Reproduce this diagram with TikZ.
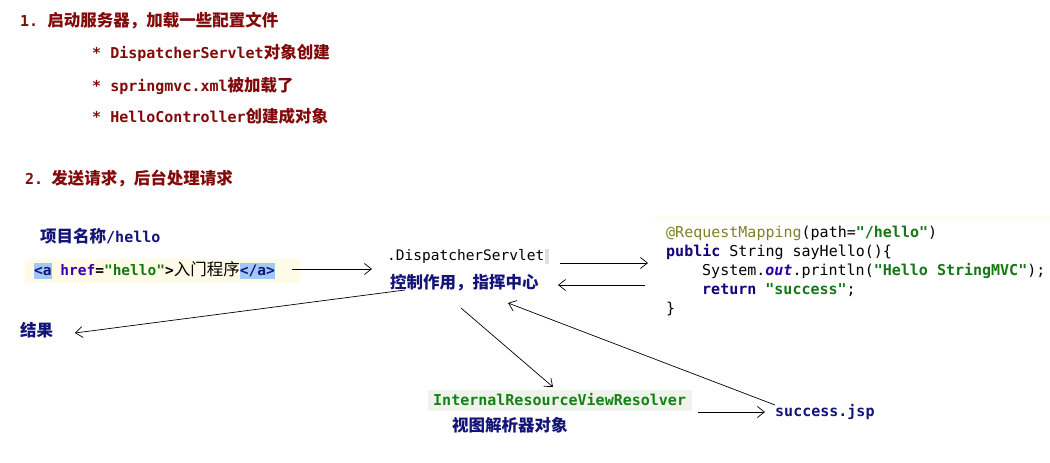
\documentclass[tikz,border=0pt]{standalone}
\usepackage{fontspec}
\setmonofont{DejaVu Sans Mono}
\newfontfamily\cjk{Noto Sans CJK SC}
\usetikzlibrary{arrows.meta}
\definecolor{dred}{RGB}{130,10,10}
\definecolor{navy}{RGB}{20,20,120}
\definecolor{kw}{RGB}{20,0,120}
\definecolor{strg}{RGB}{20,120,20}
\definecolor{anno}{RGB}{128,128,40}
\definecolor{fld}{RGB}{40,0,170}
\definecolor{attr}{RGB}{60,0,170}
\definecolor{hlblue}{RGB}{160,200,245}
\definecolor{paley}{RGB}{255,251,230}
\definecolor{paley2}{RGB}{255,253,240}
\definecolor{ivrbg}{RGB}{238,243,236}
\definecolor{ivrg}{RGB}{20,130,20}
\newcommand\zh[1]{{\cjk\fontsize{16.5}{20}\selectfont #1}}
\newcommand\hlb[1]{{\setlength\fboxsep{0pt}\colorbox{hlblue}{\rule[-4pt]{0pt}{16pt}#1}}}
\tikzset{
  txt/.style={anchor=base west, inner sep=0pt},
  conn/.style={-{Straight Barb[length=7pt,width=11pt]}, line width=0.7pt},
  mono/.style={font=\fontsize{15}{18}\selectfont\ttfamily},
}
\begin{document}
\begin{tikzpicture}[x=1pt,y=-1pt]
\useasboundingbox (0,0) rectangle (1050,463);
% backgrounds
\fill[paley] (25,259) rectangle (300,283);
\fill[paley2] (655,216) rectangle (1050,220);
\fill[ivrbg] (428,390) rectangle (692,411);
\fill[black!12] (545,249) rectangle (549,264);
% section 1
\node[txt,text=dred] (h1) at (20,27) {\bfseries{\fontsize{15}{18}\selectfont\ttfamily 1.}\hspace{9pt}\zh{启动服务器，加载一些配置文件}};
\node[txt,text=dred,mono] (b1) at (92,58) {\bfseries * DispatcherServlet\zh{对象创建}};
\node[txt,text=dred,mono] (b2) at (92,91) {\bfseries * springmvc.xml\zh{被加载了}};
\node[txt,text=dred,mono] (b3) at (92,122) {\bfseries * HelloController\zh{创建成对象}};
% section 2
\node[txt,text=dred] (h2) at (25,184) {\bfseries{\fontsize{15}{18}\selectfont\ttfamily 2.}\hspace{8pt}\zh{发送请求，后台处理请求}};
\node[txt,text=navy,mono] (proj) at (40,242) {\bfseries\zh{项目名称}/hello};
\node[txt,font=\fontsize{14.5}{18}\selectfont\ttfamily] (link) at (34,275) {\bfseries\hlb{\textcolor{navy}{<a}} \textcolor{attr}{href}=\textcolor{strg}{"hello"}>\mdseries\zh{入门程序}\bfseries\hlb{\textcolor{navy}{</a>}}};
\node[txt,font=\fontsize{14.5}{18}\selectfont\ttfamily] (disp) at (387,260) {.DispatcherServlet};
\node[txt,text=navy] (ctrl) at (390,288) {\bfseries\zh{控制作用，指挥中心}};
% code
\node[txt,mono] (c1) at (666,237) {\textcolor{anno}{@RequestMapping}(path=\textcolor{strg}{\bfseries"/hello"})};
\node[txt,mono] (c2) at (666,256) {\textcolor{kw}{\bfseries public} String sayHello()\{};
\node[txt,mono] (c3) at (702,275) {System.\textcolor{fld}{\bfseries\itshape out}.println(\textcolor{strg}{\bfseries"Hello StringMVC"});};
\node[txt,mono] (c4) at (702,294) {\textcolor{kw}{\bfseries return} \textcolor{strg}{\bfseries"success"};};
\node[txt,mono] (c5) at (666,313) {\}};
% result, resolver, jsp
\node[txt,text=navy] (res) at (20,336) {\bfseries\zh{结果}};
\node[txt,text=ivrg,mono] (ivr) at (433,405) {\bfseries InternalResourceViewResolver};
\node[txt,text=navy] (view) at (452,431) {\bfseries\zh{视图解析器对象}};
\node[txt,text=navy,mono] (jsp) at (775,416) {\bfseries success.jsp};
% connector ends
\coordinate (a1s) at (292,269); \coordinate (a1e) at (372,269);
\coordinate (a2s) at (560,263); \coordinate (a2e) at (648,263);
\coordinate (a3s) at (645,285); \coordinate (a3e) at (558,285);
\coordinate (a4s) at (405,290); \coordinate (a4e) at (75,333);
\coordinate (a5s) at (461,308); \coordinate (a5e) at (553,387);
\coordinate (a6s) at (698,412); \coordinate (a6e) at (765,412);
\coordinate (a7s) at (775,405); \coordinate (a7e) at (508,303);
\draw[conn] (a1s) -- (a1e);
\draw[conn] (a2s) -- (a2e);
\draw[conn] (a3s) -- (a3e);
\draw[conn] (a4s) -- (a4e);
\draw[conn] (a5s) -- (a5e);
\draw[conn] (a6s) -- (a6e);
\draw[conn] (a7s) -- (a7e);
\end{tikzpicture}
\end{document}
